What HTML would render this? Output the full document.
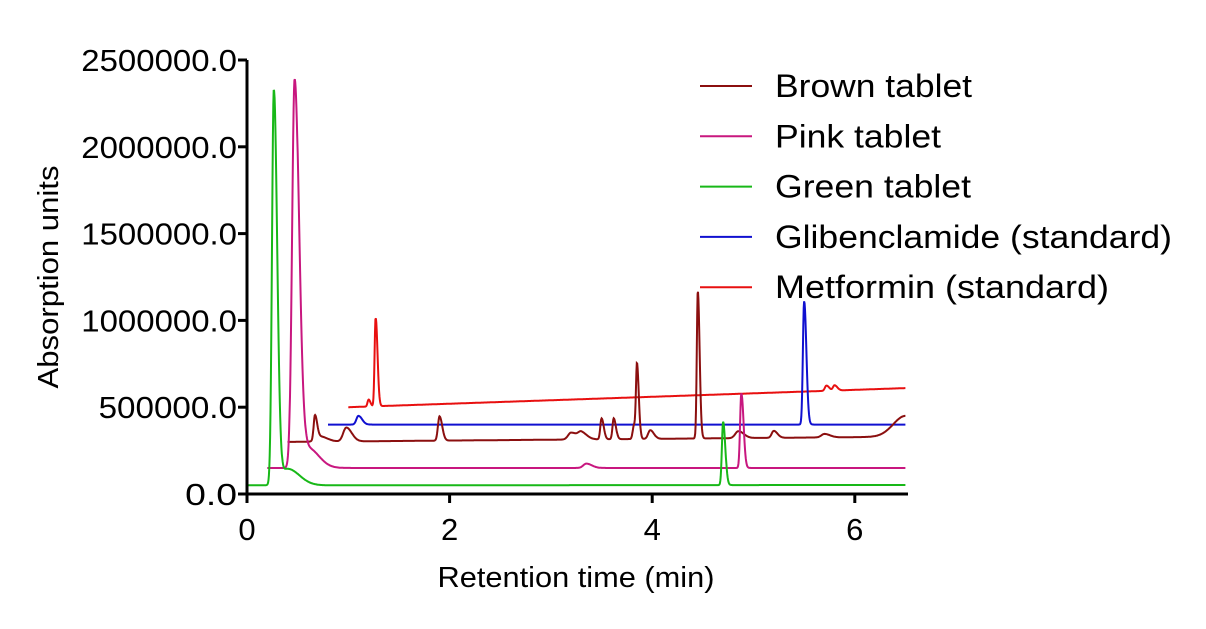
<!DOCTYPE html>
<html><head><meta charset="utf-8"><style>
body{margin:0;background:#fff;width:1206px;height:624px;overflow:hidden}
text{font-family:"Liberation Sans",Arial,sans-serif}
</style></head><body>
<svg id="chart" width="1206" height="624" viewBox="0 0 1206 624" xmlns="http://www.w3.org/2000/svg"></svg>
<script>
const xTicks=[0,2,4,6];
const yTicks=[0,500000,1000000,1500000,2000000,2500000];
const yTickLabels=["0.0","500000.0","1000000.0","1500000.0","2000000.0","2500000.0"];
const seriesNames=["Brown tablet","Pink tablet","Green tablet","Glibenclamide (standard)","Metformin (standard)"];
const seriesColors=["#8b0f0f","#c8177f","#18b818","#1010d0","#e81010"];
// baselines: [start time, start value, end value]
const brownBase=[0.4,300000,330000];
const pinkBase=[0.2,150000,150000];
const greenBase=[0,50000,52000];
const blueBase=[0.8,400000,400000];
const redBase=[1.0,500000,610000];
// peaks: times, heights (above baseline), widths (min)
const brownPeakT=[0.67,0.72,0.98,1.9,3.2,3.3,3.5,3.62,3.82,3.85,3.98,4.45,4.85,5.2,5.7,6.5];
const brownPeakH=[140000,30000,80000,140000,40000,40000,120000,120000,80000,410000,50000,850000,40000,40000,20000,120000];
const brownPeakW=[0.012,0.04,0.03,0.015,0.03,0.03,0.012,0.012,0.012,0.01,0.02,0.01,0.03,0.02,0.03,0.12];
const pinkPeakT=[0.47,0.6,3.35,4.88];
const pinkPeakH=[2230000,115000,25000,430000];
const pinkPeakW=[0.025,0.06,0.03,0.012];
const greenPeakT=[0.265,0.4,4.7];
const greenPeakH=[2270000,95000,365000];
const greenPeakW=[0.018,0.065,0.012];
const bluePeakT=[1.1,5.5];
const bluePeakH=[50000,710000];
const bluePeakW=[0.02,0.012];
const redPeakT=[1.2,1.27,5.72,5.8];
const redPeakH=[40000,510000,30000,30000];
const redPeakW=[0.01,0.01,0.015,0.015];

const X0=247,XS=101.3,Y0=494,YS=434/2500000;
const xs=t=>X0+t*XS, ys=v=>Y0-v*YS;
const svg=document.getElementById('chart');
const NS="http://www.w3.org/2000/svg";
function mk(tag,attrs,parent){const e=document.createElementNS(NS,tag);for(const k in attrs)e.setAttribute(k,attrs[k]);(parent||svg).appendChild(e);return e;}

const series=[[brownBase,brownPeakT,brownPeakH,brownPeakW],[pinkBase,pinkPeakT,pinkPeakH,pinkPeakW],[greenBase,greenPeakT,greenPeakH,greenPeakW],[blueBase,bluePeakT,bluePeakH,bluePeakW],[redBase,redPeakT,redPeakH,redPeakW]];
const drawOrder=[4,3,0,1,2];
drawOrder.forEach(i=>{
  const [b,pt,ph,pw]=series[i];
  let d="";
  for(let t=b[0];t<=6.5001;t+=0.004){
    let v=b[1]+(b[2]-b[1])*(t-b[0])/(6.5-b[0]);
    for(let k=0;k<pt.length;k++){const z=(t-pt[k])/pw[k];const tail=t>pt[k]?1.8:1;v+=ph[k]*Math.exp(-0.5*(z/tail)*(z/tail));}
    d+=(d?"L":"M")+xs(t).toFixed(1)+","+ys(v).toFixed(1);
  }
  const p=mk('path',{d:d,fill:"none",stroke:seriesColors[i],"stroke-width":2});
  
  
});

// axes
const ax=mk('path',{d:`M${X0},60V${Y0}H908`,fill:"none",stroke:"#000","stroke-width":3});


yTicks.forEach((v,i)=>{
  mk('line',{x1:X0-9,x2:X0,y1:ys(v),y2:ys(v),stroke:"#000","stroke-width":3});
  const t=mk('text',{x:237,y:ys(v)+11,"text-anchor":"end","font-size":31,textLength:yTickLabels[i].length*17.3,lengthAdjust:"spacingAndGlyphs"});
  t.textContent=yTickLabels[i];
  
  
});
xTicks.forEach(v=>{
  mk('line',{x1:xs(v),x2:xs(v),y1:Y0,y2:Y0+9,stroke:"#000","stroke-width":3});
  const t=mk('text',{x:xs(v),y:540,"text-anchor":"middle","font-size":31});
  t.textContent=v;
  
  
});
const xt=mk('text',{x:576,y:587,"text-anchor":"middle","font-size":29,textLength:277,lengthAdjust:"spacingAndGlyphs"});
xt.textContent="Retention time (min)";


const yt=mk('text',{x:0,y:0,"text-anchor":"middle","font-size":29,textLength:223,lengthAdjust:"spacingAndGlyphs",transform:"translate(58,277) rotate(-90)"});
yt.textContent="Absorption units";



// legend
const legendW=[197,166,196,397,334];
seriesNames.forEach((n,i)=>{
  const y=86+i*50.3;
  const g=mk('g',{});
  
  
  mk('line',{x1:700,x2:752,y1:y,y2:y,stroke:seriesColors[i],"stroke-width":2},g);
  const t=mk('text',{x:775,y:y+11,"font-size":32,textLength:legendW[i],lengthAdjust:"spacingAndGlyphs"},g);
  t.textContent=n;
});
</script>
</body></html>
